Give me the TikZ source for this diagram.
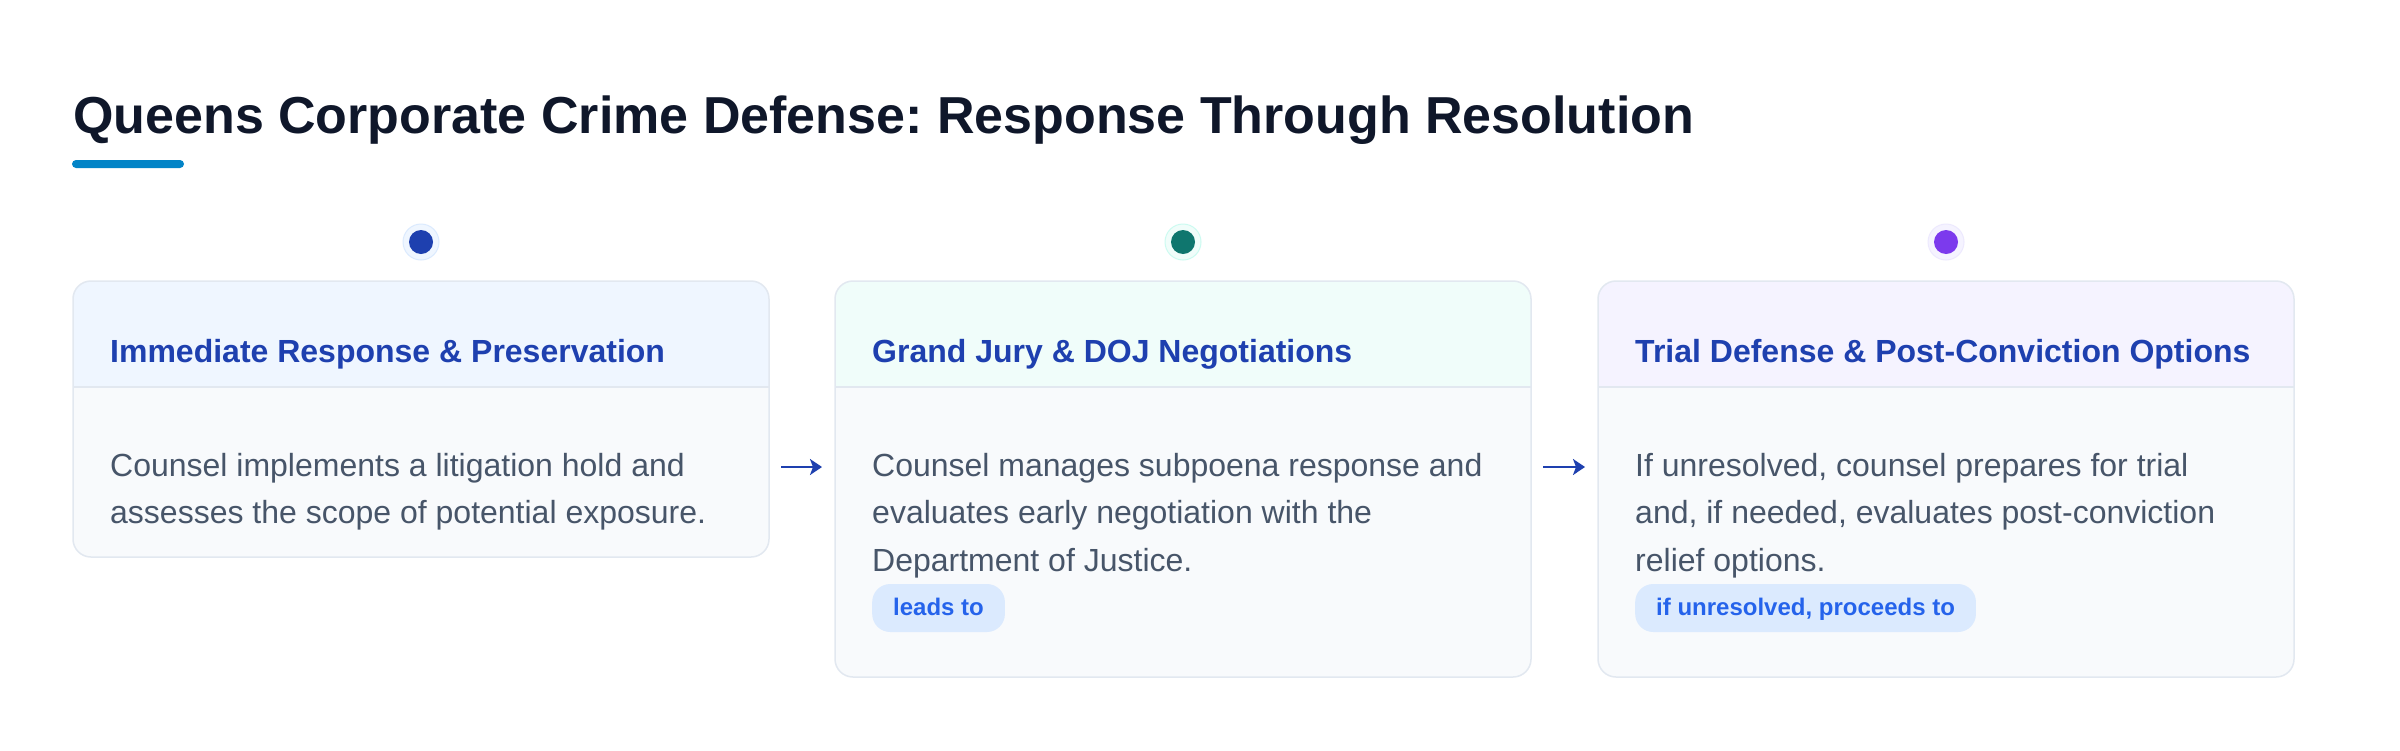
\documentclass[tikz,border=0pt]{standalone}
\usepackage{fontspec}
\setmainfont{Liberation Sans}
\usetikzlibrary{arrows.meta}
\frenchspacing
\definecolor{titlec}{HTML}{0F172A}
\definecolor{barc}{HTML}{0284C7}
\definecolor{bordc}{HTML}{E2E8F0}
\definecolor{bodyf}{HTML}{F8FAFC}
\definecolor{hdrA}{HTML}{EFF6FF}
\definecolor{hdrB}{HTML}{F0FDFA}
\definecolor{hdrC}{HTML}{F5F3FF}
\definecolor{haloA}{HTML}{DBEAFE}
\definecolor{haloB}{HTML}{CCFBF1}
\definecolor{haloC}{HTML}{EDE9FE}
\definecolor{headc}{HTML}{1E40AF}
\definecolor{textc}{HTML}{475569}
\definecolor{pillf}{HTML}{DBEAFE}
\definecolor{pillt}{HTML}{2563EB}
\definecolor{dotA}{HTML}{1E40AF}
\definecolor{dotB}{HTML}{0F766E}
\definecolor{dotC}{HTML}{7C3AED}
\tikzset{
  cardbox/.style={rectangle, rounded corners=18pt, minimum width=696pt, anchor=north west, inner sep=0pt, outer sep=0pt},
  headtext/.style={anchor=base west, inner sep=0pt, text=headc, font=\fontsize{32}{38}\selectfont\bfseries},
  bodytext/.style={anchor=base west, inner sep=0pt, text=textc, font=\fontsize{32}{47.5}\selectfont},
  pillbox/.style={anchor=base west, fill=pillf, text=pillt, rounded corners=18pt, inner xsep=21pt, inner ysep=0pt, text height=31pt, text depth=17pt, font=\fontsize{24}{28}\selectfont\bfseries},
  halo/.style={circle, minimum size=36pt, inner sep=0pt, line width=1pt},
  dotc/.style={circle, minimum size=24pt, inner sep=0pt},
  flow/.style={draw=headc, line width=2.5pt, -{Stealth[length=12pt,width=16pt,inset=3pt]}, shorten <=12pt, shorten >=13pt}
}
\begin{document}
\begin{tikzpicture}[x=1pt,y=-1pt]
\useasboundingbox (0,0) rectangle (2400,750);
\fill[white] (0,0) rectangle (2400,750);

% title
\node[anchor=base west, inner sep=0pt, text=titlec, font=\fontsize{52}{62}\selectfont\bfseries] (title) at (73,133) {Queens Corporate Crime Defense: Response Through Resolution};
\fill[barc, rounded corners=4pt] (72,160) rectangle (184,168);

% cards
\node[cardbox, minimum height=276pt] (c1) at (73,281) {};
\node[cardbox, minimum height=396pt] (c2) at (835,281) {};
\node[cardbox, minimum height=396pt] (c3) at (1598,281) {};
\coordinate (hline) at (0,387);

\foreach \c/\h in {c1/hdrA, c2/hdrB, c3/hdrC}{
  \fill[bodyf, rounded corners=18pt] (\c.north west) rectangle (\c.south east);
  \begin{scope}
    \clip[rounded corners=18pt] (\c.north west) rectangle (\c.south east);
    \fill[\h] (\c.north west) rectangle (\c.east |- hline);
  \end{scope}
  \draw[bordc, line width=1.5pt] (\c.west |- hline) -- (\c.east |- hline);
  \draw[bordc, line width=1.5pt, rounded corners=18pt] (\c.north west) rectangle (\c.south east);
}

% dots
\coordinate (dotrow) at (0,242);
\node[halo, fill=hdrA, draw=haloA] (h1) at (c1.north |- dotrow) {};
\node[dotc, fill=dotA] (d1) at (h1.center) {};
\node[halo, fill=hdrB, draw=haloB] (h2) at (c2.north |- dotrow) {};
\node[dotc, fill=dotB] (d2) at (h2.center) {};
\node[halo, fill=hdrC, draw=haloC] (h3) at (c3.north |- dotrow) {};
\node[dotc, fill=dotC] (d3) at (h3.center) {};

% headers
\node[headtext] (t1) at (110,362) {Immediate Response \& Preservation};
\node[headtext] (t2) at (872,362) {Grand Jury \& DOJ Negotiations};
\node[headtext] (t3) at (1635,362) {Trial Defense \& Post-Conviction Options};

% body text
\node[bodytext] (b1a) at (110,476) {Counsel implements a litigation hold and};
\node[bodytext] (b1b) at (110,523.5) {assesses the scope of potential exposure.};

\node[bodytext] (b2a) at (872,476) {Counsel manages subpoena response and};
\node[bodytext] (b2b) at (872,523.5) {evaluates early negotiation with the};
\node[bodytext] (b2c) at (872,571) {Department of Justice.};

\node[bodytext] (b3a) at (1635,476) {If unresolved, counsel prepares for trial};
\node[bodytext] (b3b) at (1635,523.5) {and, if needed, evaluates post-conviction};
\node[bodytext] (b3c) at (1635,571) {relief options.};

% pills
\node[pillbox] (p2) at (872,615) {leads to};
\node[pillbox] (p3) at (1635,615) {if unresolved, proceeds to};

% connectors
\coordinate (arow) at (0,467);
\draw[flow] (c1.east |- arow) -- (c2.west |- arow);
\draw[flow] (c2.east |- arow) -- (c3.west |- arow);
\end{tikzpicture}
\end{document}
